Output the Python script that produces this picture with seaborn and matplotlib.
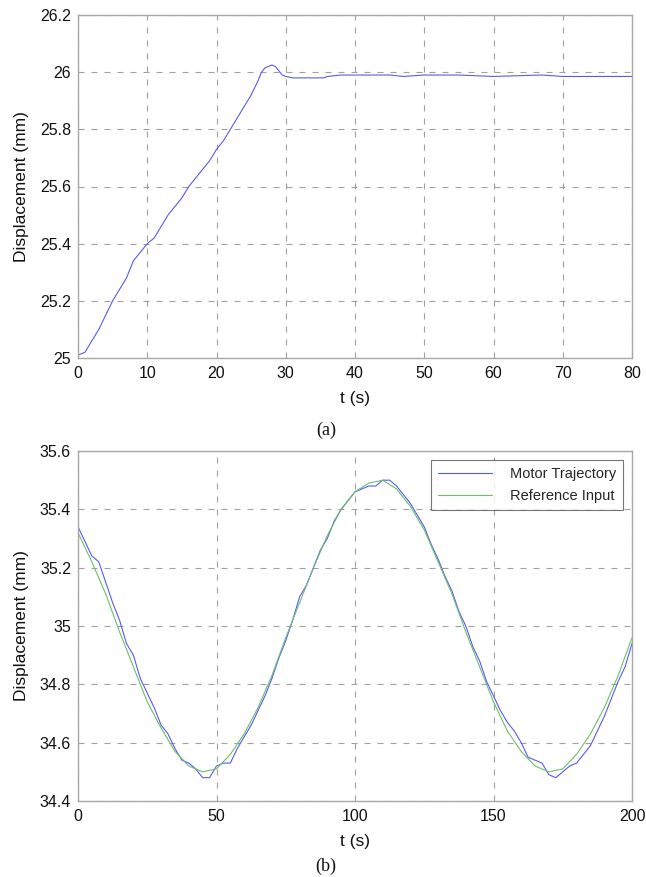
import matplotlib
matplotlib.use("Agg")
import matplotlib.pyplot as plt
import seaborn as sns
import pandas as pd

# ---- data (a) step response ----
t_a = [0, 1, 2, 3, 4, 5, 6, 7, 8, 9, 10, 11, 12, 13, 14, 15, 16, 17, 18, 19,
       20, 21, 22, 23, 24, 25, 26, 26.5, 27, 27.5, 28, 28.5, 29, 29.5, 30, 31,
       33, 35.5, 36, 38, 40, 45, 47, 50, 55, 60, 67, 70, 75, 80]
y_a = [25.01, 25.02, 25.06, 25.10, 25.15, 25.20, 25.24, 25.28, 25.34, 25.37,
       25.40, 25.42, 25.46, 25.50, 25.53, 25.56, 25.60, 25.63, 25.66, 25.69,
       25.73, 25.76, 25.80, 25.84, 25.88, 25.92, 25.97, 26.00, 26.015, 26.02,
       26.025, 26.02, 26.005, 25.99, 25.985, 25.98, 25.98, 25.98, 25.985, 25.99,
       25.99, 25.99, 25.985, 25.99, 25.99, 25.985, 25.99, 25.985, 25.985, 25.985]

# ---- data (b) sinusoidal tracking ----
t_ref = [0, 5, 10, 15, 20, 25, 30, 35, 40, 45, 50, 55, 60, 65, 70, 75, 80, 85,
         90, 95, 100, 105, 110, 115, 120, 125, 130, 135, 140, 145, 150, 155,
         160, 165, 170, 175, 180, 185, 190, 195, 200]
y_ref = [35.32, 35.22, 35.11, 34.98, 34.86, 34.74, 34.65, 34.57, 34.52, 34.50,
         34.51, 34.56, 34.63, 34.72, 34.83, 34.96, 35.08, 35.20, 35.31, 35.40,
         35.46, 35.49, 35.50, 35.47, 35.41, 35.33, 35.22, 35.11, 34.98, 34.86,
         34.74, 34.64, 34.57, 34.52, 34.50, 34.51, 34.56, 34.63, 34.72, 34.83,
         34.96]

t_mot = [0, 2.5, 5, 7.5, 10, 12.5, 15, 17.5, 20, 22.5, 25, 27.5, 30, 32.5, 35,
         37.5, 40, 42.5, 45, 47.5, 50, 52.5, 55, 57.5, 60, 62.5, 65, 67.5, 70,
         72.5, 75, 77.5, 80, 82.5, 85, 87.5, 90, 92.5, 95, 97.5, 100, 102.5, 105,
         107.5, 110, 112.5, 115, 117.5, 120, 122.5, 125, 127.5, 130, 132.5, 135,
         137.5, 140, 142.5, 145, 147.5, 150, 152.5, 155, 157.5, 160, 162.5, 165,
         167.5, 170, 172.5, 175, 177.5, 180, 182.5, 185, 187.5, 190, 192.5, 195,
         197.5, 200]
y_mot = [35.34, 35.29, 35.24, 35.22, 35.15, 35.08, 35.02, 34.94, 34.90, 34.82,
         34.77, 34.72, 34.66, 34.63, 34.58, 34.54, 34.53, 34.51, 34.48, 34.48,
         34.52, 34.53, 34.53, 34.58, 34.62, 34.66, 34.71, 34.76, 34.82, 34.89,
         34.95, 35.02, 35.10, 35.14, 35.20, 35.26, 35.30, 35.36, 35.40, 35.43,
         35.46, 35.47, 35.48, 35.48, 35.50, 35.50, 35.48, 35.45, 35.42, 35.38,
         35.34, 35.28, 35.23, 35.17, 35.12, 35.05, 35.00, 34.93, 34.88, 34.81,
         34.76, 34.71, 34.67, 34.64, 34.60, 34.55, 34.54, 34.53, 34.49, 34.48,
         34.50, 34.52, 34.53, 34.56, 34.59, 34.64, 34.69, 34.75, 34.81, 34.86,
         34.94]

xticks_a = [0, 10, 20, 30, 40, 50, 60, 70, 80]
yticks_a = [25, 25.2, 25.4, 25.6, 25.8, 26, 26.2]
xticks_b = [0, 50, 100, 150, 200]
yticks_b = [34.4, 34.6, 34.8, 35, 35.2, 35.4, 35.6]

sns.set_style("white")
plt.rcParams["font.family"] = ["Liberation Sans", "DejaVu Sans"]

BLUE = "#5a5af2"
GREEN = "#6cbf6c"
EDGE = "#a8a8a8"
GRID = "#a0a0a0"

fig = plt.figure(figsize=(6.46, 8.77), dpi=100)
W, H = 646, 877
ax1 = fig.add_axes([78 / W, 1 - 358 / H, (632 - 78) / W, (358 - 15) / H])
ax2 = fig.add_axes([78 / W, 1 - 801 / H, (632 - 78) / W, (801 - 451) / H])

df_a = pd.DataFrame({"t": t_a, "y": y_a})
sns.lineplot(data=df_a, x="t", y="y", ax=ax1, color=BLUE, linewidth=0.8)

df_mot = pd.DataFrame({"t": t_mot, "y": y_mot})
df_ref = pd.DataFrame({"t": t_ref, "y": y_ref})
sns.lineplot(data=df_mot, x="t", y="y", ax=ax2, color=BLUE, linewidth=0.8,
             label="Motor Trajectory")
sns.lineplot(data=df_ref, x="t", y="y", ax=ax2, color=GREEN, linewidth=0.8,
             label="Reference Input")


def style(ax, xt, yt, xlim, ylim):
    ax.set_xlim(*xlim)
    ax.set_ylim(*ylim)
    ax.set_xticks(xt)
    ax.set_yticks(yt)
    ax.set_xticklabels([f"{v:g}" for v in xt])
    ax.set_yticklabels([f"{v:g}" for v in yt])
    ax.tick_params(axis="both", length=0, labelsize=11.5, colors="#111111")
    ax.tick_params(axis="x", pad=6)
    ax.tick_params(axis="y", pad=5)
    ax.grid(True, color=GRID, linestyle=(0, (5.4, 6.3)), linewidth=0.8)
    for s in ax.spines.values():
        s.set_color(EDGE)
        s.set_linewidth(1.0)
    ax.set_xlabel("t (s)", fontsize=12.5, labelpad=7, color="#111111")
    ax.set_ylabel("Displacement (mm)", fontsize=12.5, labelpad=8, color="#111111")


style(ax1, xticks_a, yticks_a, (0, 80), (25, 26.2))
style(ax2, xticks_b, yticks_b, (0, 200), (34.4, 35.6))

leg = ax2.legend(loc="upper right", fontsize=10.5, handlelength=3.7,
                 frameon=True, fancybox=False, borderaxespad=0.6,
                 labelspacing=0.55, handletextpad=1.2, borderpad=0.5)
leg.get_frame().set_edgecolor("#555555")
leg.get_frame().set_linewidth(0.8)

fig.text(326 / W, 1 - 430 / H, "(a)", ha="center", va="center",
         fontsize=13, family=["Liberation Serif", "DejaVu Serif"], color="#111111")
fig.text(326 / W, 1 - 866 / H, "(b)", ha="center", va="center",
         fontsize=13, family=["Liberation Serif", "DejaVu Serif"], color="#111111")

fig.savefig("out.png", dpi=100)
